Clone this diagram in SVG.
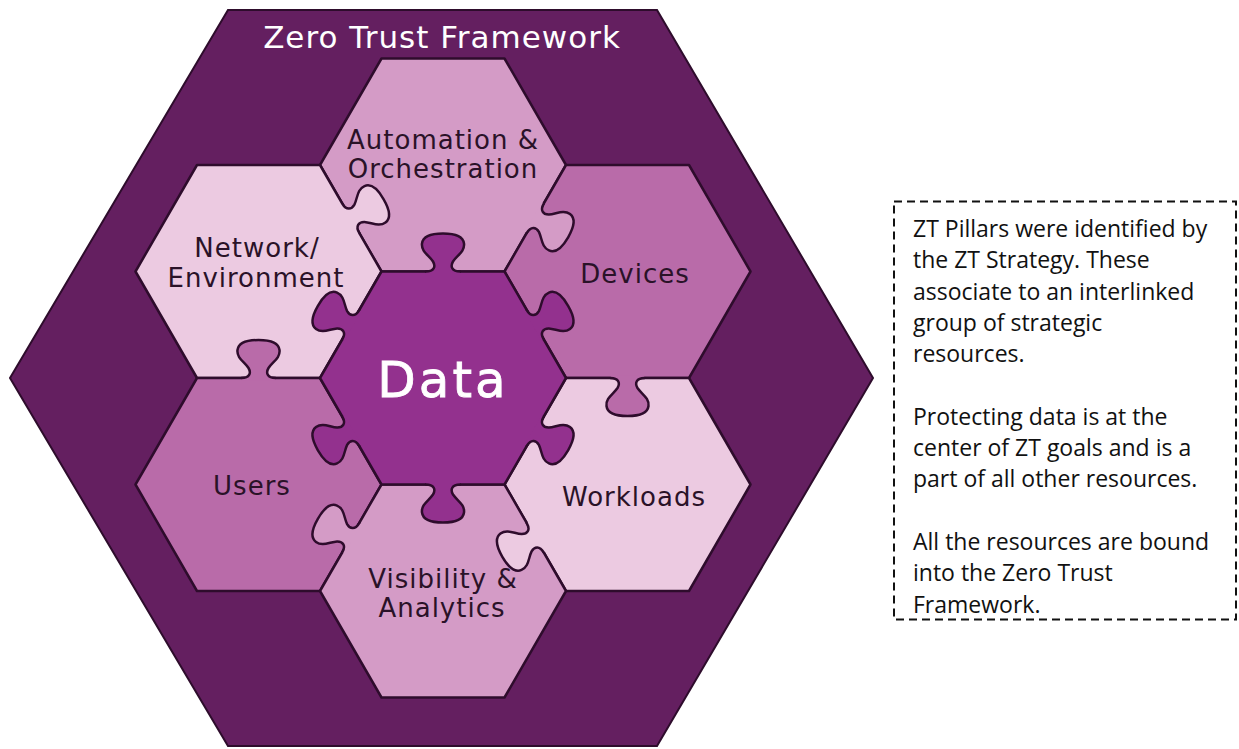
<svg xmlns="http://www.w3.org/2000/svg" xmlns:xlink="http://www.w3.org/1999/xlink" width="1239" height="749" viewBox="0 0 1239 749">
<style>
.piece{stroke:#2e0c2c;stroke-width:2.5;stroke-linejoin:round}
.knobline{fill:none;stroke:#2e0c2c;stroke-width:2.5;stroke-linecap:round}
.lbl{font-family:"DejaVu Sans",sans-serif;font-size:26px;letter-spacing:1px;fill:#2a1228;text-anchor:middle}
.note{font-family:"Open Sans","Liberation Sans",sans-serif;font-size:23px;fill:#111}
</style>
<defs>
<polygon id="hex" points="-123,0 -61.5,-106.5 61.5,-106.5 123,0 61.5,106.5 -61.5,106.5"/>
<g id="knob">
<path stroke="none" d="M -17 2.5 L -17 0 C -9 0 -7 -5 -10 -10 C -14 -16 -22 -20 -21 -28 C -20 -36 -9 -38 0 -38 C 9 -38 20 -36 21 -28 C 22 -20 14 -16 10 -10 C 7 -5 9 0 17 0 L 17 2.5 Z"/>
<path class="knobline" d="M -17 0 C -9 0 -7 -5 -10 -10 C -14 -16 -22 -20 -21 -28 C -20 -36 -9 -38 0 -38 C 9 -38 20 -36 21 -28 C 22 -20 14 -16 10 -10 C 7 -5 9 0 17 0"/>
</g>
</defs>

<g id="framework">
<polygon points="228,10 657,10 873,378 657,746 228,746 10,378" fill="#641f60" stroke="#2e0c2c" stroke-width="2"/>
<text x="442" y="48" font-family="DejaVu Sans, sans-serif" font-size="31" letter-spacing="1" fill="#ffffff" text-anchor="middle">Zero Trust Framework</text>
</g>

<g id="automation"><use xlink:href="#hex" class="piece" transform="translate(443,165)" fill="#d49bc6"/></g>
<g id="network"><use xlink:href="#hex" class="piece" transform="translate(258.5,271.5)" fill="#eccae1"/></g>
<g id="devices"><use xlink:href="#hex" class="piece" transform="translate(627.5,271.5)" fill="#b96ba9"/></g>
<g id="users"><use xlink:href="#hex" class="piece" transform="translate(258.5,484.5)" fill="#b96ba9"/></g>
<g id="workloads"><use xlink:href="#hex" class="piece" transform="translate(627.5,484.5)" fill="#eccae1"/></g>
<g id="visibility"><use xlink:href="#hex" class="piece" transform="translate(443,591)" fill="#d49bc6"/></g>
<g id="data"><use xlink:href="#hex" class="piece" transform="translate(443,378)" fill="#93318e"/></g>

<g id="connectors">
<use xlink:href="#knob" fill="#93318e" transform="translate(443,271.5) rotate(0)"/>
<use xlink:href="#knob" fill="#93318e" transform="translate(535.2,324.75) rotate(60)"/>
<use xlink:href="#knob" fill="#93318e" transform="translate(535.2,431.25) rotate(120)"/>
<use xlink:href="#knob" fill="#93318e" transform="translate(443,484.5) rotate(180)"/>
<use xlink:href="#knob" fill="#93318e" transform="translate(350.8,431.25) rotate(240)"/>
<use xlink:href="#knob" fill="#93318e" transform="translate(350.8,324.75) rotate(300)"/>
<use xlink:href="#knob" fill="#d49bc6" transform="translate(535.25,218.25) rotate(120)"/>
<use xlink:href="#knob" fill="#b96ba9" transform="translate(627.5,378) rotate(180)"/>
<use xlink:href="#knob" fill="#eccae1" transform="translate(535.25,537.75) rotate(240)"/>
<use xlink:href="#knob" fill="#d49bc6" transform="translate(350.75,537.75) rotate(300)"/>
<use xlink:href="#knob" fill="#b96ba9" transform="translate(258.5,378) rotate(0)"/>
<use xlink:href="#knob" fill="#eccae1" transform="translate(350.75,218.25) rotate(60)"/>
</g>

<g id="labels">
<text class="lbl" x="443" y="149">Automation &amp;</text>
<text class="lbl" x="443" y="178">Orchestration</text>
<text class="lbl" x="257" y="257">Network/</text>
<text class="lbl" x="256" y="287">Environment</text>
<text class="lbl" x="635" y="283">Devices</text>
<text x="443" y="397" font-family="DejaVu Sans, sans-serif" font-size="50" fill="#ffffff" stroke="#ffffff" stroke-width="0.8" text-anchor="middle" letter-spacing="3">Data</text>
<text class="lbl" x="252" y="495">Users</text>
<text class="lbl" x="634" y="506">Workloads</text>
<text class="lbl" x="443" y="588">Visibility &amp;</text>
<text class="lbl" x="442" y="617">Analytics</text>
</g>

<g id="note">
<rect x="894" y="201.5" width="342" height="418" fill="none" stroke="#111" stroke-width="2" stroke-dasharray="8 5"/>
<text class="note" x="913" y="237">ZT Pillars were identified by</text>
<text class="note" x="913" y="268.3">the ZT Strategy. These</text>
<text class="note" x="913" y="299.6">associate to an interlinked</text>
<text class="note" x="913" y="330.9">group of  strategic</text>
<text class="note" x="913" y="362.2">resources.</text>
<text class="note" x="913" y="424.8">Protecting data is at the</text>
<text class="note" x="913" y="456.1">center of ZT goals and is a</text>
<text class="note" x="913" y="487.4">part of all other resources.</text>
<text class="note" x="913" y="550">All the resources are bound</text>
<text class="note" x="913" y="581.3">into the Zero Trust</text>
<text class="note" x="913" y="612.6">Framework.</text>
</g>
</svg>
